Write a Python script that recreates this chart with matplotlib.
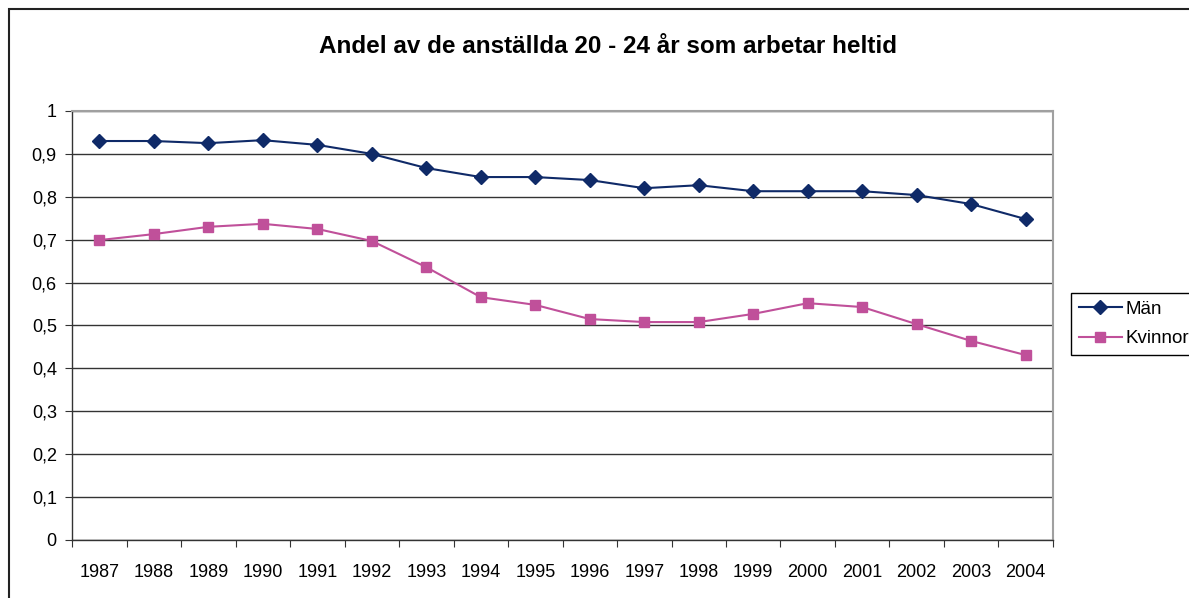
import matplotlib.pyplot as plt
import numpy as np
from matplotlib.patches import Rectangle

years = ['1987', '1988', '1989', '1990', '1991', '1992', '1993', '1994', '1995',
         '1996', '1997', '1998', '1999', '2000', '2001', '2002', '2003', '2004']
man = [0.930, 0.930, 0.925, 0.932, 0.921, 0.900, 0.867, 0.846, 0.846,
       0.839, 0.820, 0.827, 0.813, 0.813, 0.813, 0.804, 0.783, 0.748]
kvinnor = [0.699, 0.713, 0.730, 0.737, 0.725, 0.697, 0.636, 0.566, 0.548,
           0.515, 0.508, 0.508, 0.527, 0.552, 0.543, 0.503, 0.464, 0.431]

plt.rcParams['font.family'] = ['Liberation Sans', 'DejaVu Sans']

fig = plt.figure(figsize=(11.89, 5.98), dpi=100)
ax = fig.add_axes([0.0606, 0.097, 0.825, 0.7174])

x = np.arange(len(years))
ax.plot(x, man, color='#0f2a68', lw=1.5, marker='D', ms=7.5, label='Män', zorder=3)
ax.plot(x, kvinnor, color='#c0509a', lw=1.5, marker='s', ms=7, label='Kvinnor', zorder=3)

ax.set_xlim(-0.5, len(years) - 0.5)
ax.set_ylim(0, 1)
ax.set_yticks(np.arange(0, 1.01, 0.1))
ax.set_yticklabels(['0'] + [('%.1f' % v).replace('.', ',') for v in np.arange(0.1, 0.95, 0.1)] + ['1'])
ax.set_xticks(np.arange(-0.5, len(years), 1))
ax.set_xticklabels([])
ax.set_xticks(x, minor=True)
ax.set_xticklabels(years, minor=True)
ax.tick_params(axis='x', which='minor', length=0, pad=17, labelsize=13)
ax.tick_params(axis='x', which='major', length=5, direction='out', color='#333333')
ax.tick_params(axis='y', length=5, direction='out', labelsize=13, pad=6, color='#333333')

ax.grid(axis='y', color='#333333', lw=1)
ax.set_axisbelow(True)
for s in ['top', 'right']:
    ax.spines[s].set_color('#a0a0a0')
    ax.spines[s].set_linewidth(1.5)
for s in ['left', 'bottom']:
    ax.spines[s].set_color('#333333')
    ax.spines[s].set_linewidth(1)

fig.text(0.511, 0.923, 'Andel av de anställda 20 - 24 år som arbetar heltid',
         ha='center', va='center', fontsize=17.5, fontweight='bold')

leg = fig.legend(loc='upper left', bbox_to_anchor=(1071 / 1189, 1 - 293 / 598), fontsize=13.5,
                 fancybox=False, edgecolor='black', framealpha=1,
                 borderaxespad=0, handlelength=2.3, handletextpad=0.2,
                 borderpad=0.42, labelspacing=0.65)
leg.get_frame().set_linewidth(1)

fig.patches.append(Rectangle((9 / 1189, -0.1), 1.2, 1 - 9 / 598 + 0.1,
                             transform=fig.transFigure, fill=False,
                             edgecolor='#222222', lw=1.5))

fig.savefig('out.png', dpi=100)
